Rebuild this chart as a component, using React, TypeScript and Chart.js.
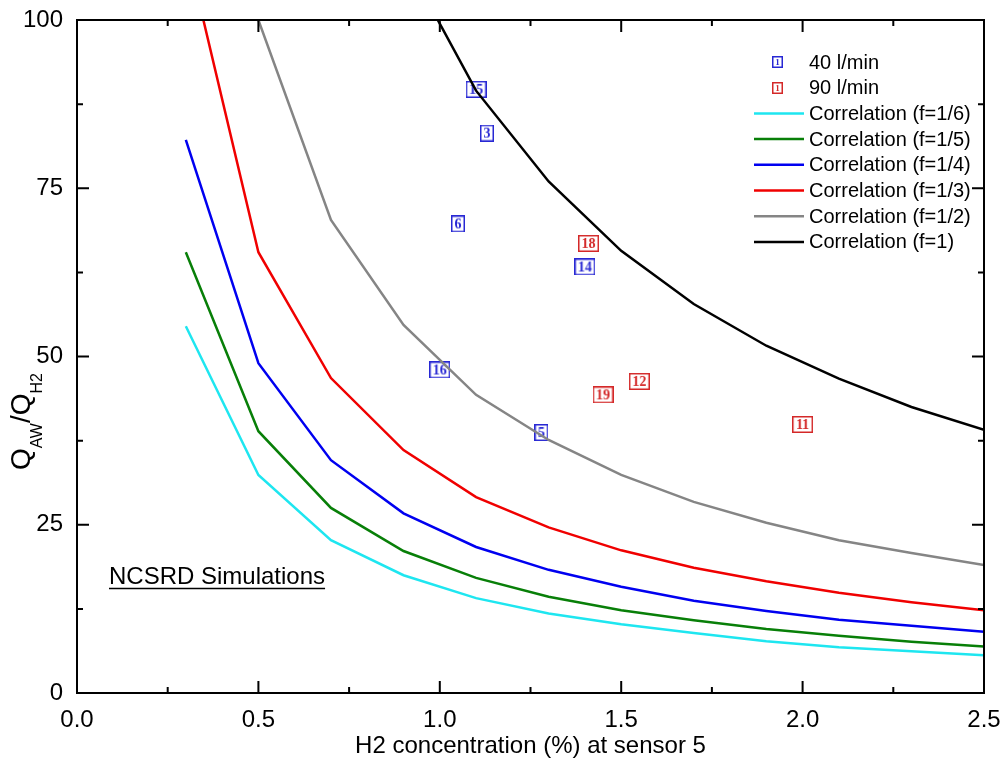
import React, { useEffect, useRef } from "react";
import { Chart, registerables } from "chart.js";

Chart.register(...registerables);

// ---- Data ----
const corrX = [0.3, 0.5, 0.7, 0.9, 1.1, 1.3, 1.5, 1.7, 1.9, 2.1, 2.3, 2.5];
const corrF6 = [54.5, 32.4, 22.7, 17.5, 14.1, 11.8, 10.2, 8.9, 7.7, 6.8, 6.2, 5.6];
const corrF5 = [65.5, 38.9, 27.5, 21.1, 17.1, 14.3, 12.3, 10.8, 9.5, 8.5, 7.6, 6.9];
const corrF4 = [82.2, 49.0, 34.6, 26.7, 21.7, 18.3, 15.8, 13.7, 12.2, 10.9, 10.0, 9.1];
const corrF3 = [111, 65.5, 46.8, 36.1, 29.1, 24.6, 21.2, 18.6, 16.6, 14.9, 13.5, 12.3];
const corrF2 = [null, 100, 70.3, 54.7, 44.3, 37.6, 32.4, 28.4, 25.3, 22.7, 20.8, 19.0];
const corrF1 = [null, null, null, 109.4, 89.5, 76.0, 65.7, 57.8, 51.6, 46.7, 42.5, 39.1];

const flow40X = [1.1, 1.13, 1.05, 1.4, 1.0, 1.28];
const flow40Y = [89.7, 83.2, 69.7, 63.3, 48.0, 38.7];
const flow40Labels = ["15", "3", "6", "14", "16", "5"];

const flow90X = [1.41, 1.45, 1.55, 2.0];
const flow90Y = [66.8, 44.3, 46.3, 39.9];
const flow90Labels = ["18", "19", "12", "11"];

const xMajor = [0, 0.5, 1.0, 1.5, 2.0, 2.5];
const xMinor = [0.25, 0.75, 1.25, 1.75, 2.25];
const yMajor = [0, 25, 50, 75, 100];
const yMinor = [12.5, 37.5, 62.5, 87.5];

const FONT = '"Liberation Sans", Arial, Helvetica, sans-serif';
const SERIF = '"Liberation Serif", "Times New Roman", serif';
const BLUE_MK = "#2828d4";
const RED_MK = "#d42828";

function toPoints(xs: number[], ys: (number | null)[]) {
  const out: { x: number; y: number }[] = [];
  xs.forEach((x, i) => {
    const y = ys[i];
    if (y !== null && y !== undefined) out.push({ x, y });
  });
  return out;
}

function makeBox(text: string, color: string, w: number, h: number, fontPx: number) {
  const c = document.createElement("canvas");
  c.width = w;
  c.height = h;
  const g = c.getContext("2d")!;
  g.fillStyle = "#fff";
  g.fillRect(0, 0, w, h);
  g.strokeStyle = color;
  g.lineWidth = 1.5;
  g.strokeRect(0.75, 0.75, w - 1.5, h - 1.5);
  g.fillStyle = color;
  g.font = `bold ${fontPx}px ${SERIF}`;
  g.textAlign = "center";
  g.textBaseline = "middle";
  g.fillText(text, w / 2, h / 2 + 1);
  return c;
}

const framePlugin = {
  id: "frame",
  afterDatasetsDraw(chart: any) {
    const { ctx, chartArea: a, scales } = chart;
    const xs = scales.x;
    const ys = scales.y;
    ctx.save();
    ctx.strokeStyle = "#000";
    ctx.lineWidth = 2;
    ctx.strokeRect(a.left, a.top, a.right - a.left, a.bottom - a.top);
    ctx.beginPath();
    const tick = (vals: number[], len: number) => {
      vals.forEach((v) => {
        const px = xs.getPixelForValue(v);
        ctx.moveTo(px, a.bottom);
        ctx.lineTo(px, a.bottom - len);
        ctx.moveTo(px, a.top);
        ctx.lineTo(px, a.top + len);
      });
    };
    const tickY = (vals: number[], len: number) => {
      vals.forEach((v) => {
        const py = ys.getPixelForValue(v);
        ctx.moveTo(a.left, py);
        ctx.lineTo(a.left + len, py);
        ctx.moveTo(a.right, py);
        ctx.lineTo(a.right - len, py);
      });
    };
    tick(xMajor, 12);
    tick(xMinor, 6);
    tickY(yMajor, 12);
    tickY(yMinor, 6);
    ctx.stroke();
    ctx.restore();
  },
};

const legendPlugin = {
  id: "insideLegend",
  afterDatasetsDraw(chart: any) {
    const ctx = chart.ctx;
    const y0 = 62;
    const dy = 25.7;
    ctx.save();
    chart.data.datasets.forEach((ds: any, i: number) => {
      const y = y0 + i * dy;
      if (ds.legendIcon) {
        const ic = ds.legendIcon as HTMLCanvasElement;
        ctx.drawImage(ic, Math.round(777 - ic.width / 2), Math.round(y - ic.height / 2));
      } else {
        ctx.strokeStyle = ds.borderColor;
        ctx.lineWidth = ds.borderWidth;
        ctx.beginPath();
        ctx.moveTo(754, y);
        ctx.lineTo(804, y);
        ctx.stroke();
      }
      ctx.fillStyle = "#000";
      ctx.font = `20px ${FONT}`;
      ctx.textAlign = "left";
      ctx.textBaseline = "middle";
      ctx.fillText(ds.label, 809, y + 1);
    });
    ctx.restore();
  },
};

const annotationPlugin = {
  id: "annot",
  afterDraw(chart: any) {
    const ctx = chart.ctx;
    ctx.save();
    // NCSRD text
    ctx.fillStyle = "#000";
    ctx.font = `24px ${FONT}`;
    ctx.textAlign = "left";
    ctx.textBaseline = "alphabetic";
    const t = "NCSRD Simulations";
    ctx.fillText(t, 109, 584);
    const w = ctx.measureText(t).width;
    ctx.strokeStyle = "#000";
    ctx.lineWidth = 1.5;
    ctx.beginPath();
    ctx.moveTo(109, 588.5);
    ctx.lineTo(109 + w, 588.5);
    ctx.stroke();

    // Y axis title Q_AW / Q_H2
    ctx.translate(0, 470);
    ctx.rotate(-Math.PI / 2);
    const parts: [string, number, number][] = [
      ["Q", 28, 30],
      ["AW", 16, 42],
      ["/", 28, 30],
      ["Q", 28, 30],
      ["H2", 16, 42],
    ];
    let x = 0;
    for (const [txt, size, base] of parts) {
      ctx.font = `${size}px ${FONT}`;
      ctx.fillText(txt, x, base);
      x += ctx.measureText(txt).width;
    }
    ctx.restore();
  },
};

export default function App() {
  const ref = useRef<HTMLCanvasElement | null>(null);

  useEffect(() => {
    document.body.style.margin = "0";
    if (!ref.current) return;
    Chart.defaults.font.family = FONT;
    Chart.defaults.color = "#000";

    const icon40 = makeBox("1", BLUE_MK, 11, 12, 9);
    const icon90 = makeBox("1", RED_MK, 11, 12, 9);

    const boxes40 = flow40Labels.map((t) => makeBox(t, BLUE_MK, t.length > 1 ? 21 : 14, 17, 14));
    const boxes90 = flow90Labels.map((t) => makeBox(t, RED_MK, t.length > 1 ? 21 : 14, 17, 14));

    const lineDs = (label: string, ys: (number | null)[], color: string) => ({
      label,
      data: toPoints(corrX, ys),
      showLine: true,
      borderColor: color,
      backgroundColor: color,
      borderWidth: 2.5,
      pointRadius: 0,
      pointHoverRadius: 0,
      tension: 0,
      order: 0,
    });

    const chart = new Chart(ref.current, {
      type: "scatter",
      data: {
        datasets: [
          {
            label: "40 l/min",
            data: toPoints(flow40X, flow40Y),
            pointStyle: boxes40 as any,
            pointRadius: 8,
            showLine: false,
            order: 1,
            legendIcon: icon40,
          } as any,
          {
            label: "90 l/min",
            data: toPoints(flow90X, flow90Y),
            pointStyle: boxes90 as any,
            pointRadius: 8,
            showLine: false,
            order: 1,
            legendIcon: icon90,
          } as any,
          lineDs("Correlation (f=1/6)", corrF6, "#1ee6f0"),
          lineDs("Correlation (f=1/5)", corrF5, "#087f08"),
          lineDs("Correlation (f=1/4)", corrF4, "#0000f0"),
          lineDs("Correlation (f=1/3)", corrF3, "#f00000"),
          lineDs("Correlation (f=1/2)", corrF2, "#858585"),
          lineDs("Correlation (f=1)", corrF1, "#000000"),
        ],
      },
      options: {
        animation: false,
        responsive: false,
        devicePixelRatio: 1,
        layout: { padding: { top: 20, right: 20, left: 0, bottom: 0 } },
        plugins: {
          legend: { display: false },
          tooltip: { enabled: false },
        },
        events: [],
        scales: {
          x: {
            type: "linear",
            min: 0,
            max: 2.5,
            grid: { display: false, drawTicks: false },
            border: { display: false },
            ticks: {
              stepSize: 0.5,
              padding: 13,
              font: { size: 24 },
              color: "#000",
              callback: (v: any) => Number(v).toFixed(1),
            },
            title: {
              display: true,
              text: "H2 concentration (%) at sensor 5",
              font: { size: 24 },
              color: "#000",
              padding: { top: 0, bottom: 14 },
            },
            afterFit: (s: any) => {
              s.height = 82;
              s.paddingLeft = 0;
              s.paddingRight = 0;
              s.paddingTop = 0;
              s.paddingBottom = 0;
            },
          },
          y: {
            type: "linear",
            min: 0,
            max: 100,
            grid: { display: false, drawTicks: false },
            border: { display: false },
            ticks: {
              stepSize: 25,
              padding: 14,
              font: { size: 24 },
              color: "#000",
            },
            afterFit: (s: any) => {
              s.width = 77;
              s.paddingLeft = 0;
              s.paddingRight = 0;
              s.paddingTop = 0;
              s.paddingBottom = 0;
            },
          },
        },
      } as any,
      plugins: [framePlugin, legendPlugin, annotationPlugin],
    });
    return () => chart.destroy();
  }, []);

  return (
    <canvas
      ref={ref}
      width={1004}
      height={775}
      style={{ display: "block", width: "1004px", height: "775px" }}
    />
  );
}
